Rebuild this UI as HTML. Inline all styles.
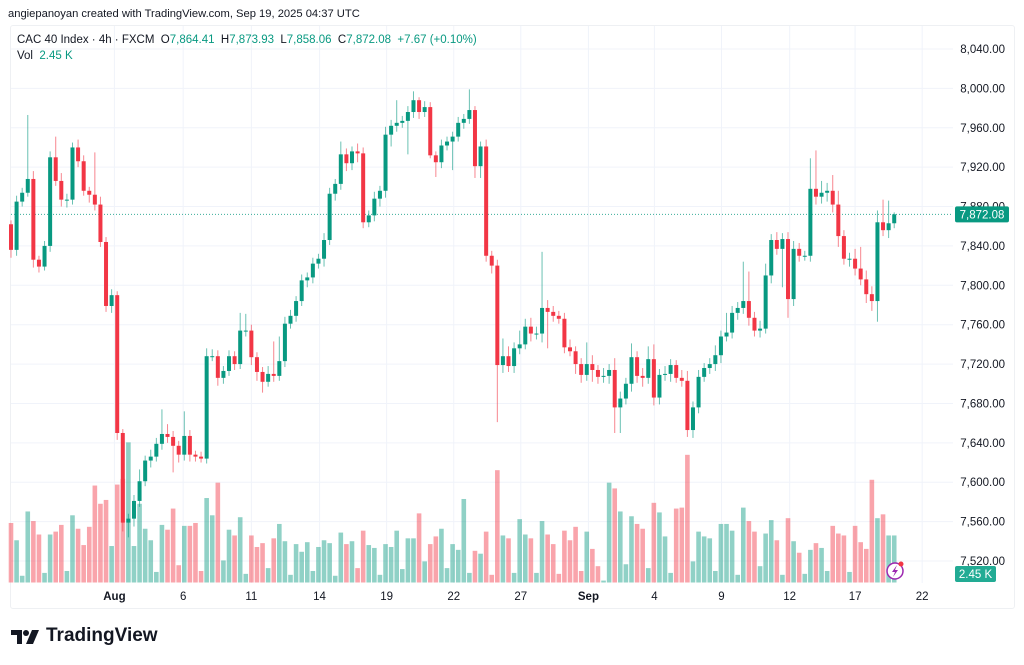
<!DOCTYPE html>
<html><head><meta charset="utf-8"><style>
body{margin:0;background:#fff;width:1024px;height:665px;overflow:hidden;font-family:"Liberation Sans",sans-serif;}
#wrap{position:relative;width:1024px;height:665px;}
.t{position:absolute;white-space:nowrap;font-size:11.5px;color:#131722;}
.g{color:#089981;}
</style></head><body>
<div id="wrap">
<div class="t" style="left:8px;top:8px;font-size:11.2px;">angiepanoyan created with TradingView.com, Sep 19, 2025 04:37 UTC</div>
<div style="position:absolute;left:10px;top:25px;width:1003px;height:582px;border:1px solid #eef0f3;border-radius:3px;"></div>
<svg id="chart" width="1024" height="665" style="position:absolute;left:0;top:0"></svg>
<div class="t" style="left:17px;top:34px;">CAC 40 Index · 4h · FXCM &nbsp;O<span class="g">7,864.41</span> &nbsp;H<span class="g">7,873.93</span> &nbsp;L<span class="g">7,858.06</span> &nbsp;C<span class="g">7,872.08</span> &nbsp;<span class="g">+7.67 (+0.10%)</span></div>
<div class="t" style="left:17px;top:50px;">Vol&nbsp; <span class="g">2.45 K</span></div>
<div style="position:absolute;left:11px;top:628px;">
<svg width="30" height="18" viewBox="0 0 30 18"><path d="M0 2h11v14H6V7H0z" fill="#131722"/><circle cx="15" cy="5" r="3" fill="#131722"/><path d="M21 2h7l-6 14h-7z" fill="#131722"/></svg>
<span style="position:absolute;left:35px;top:-3px;font-size:19px;font-weight:bold;color:#131722;">TradingView</span></div>
</div>
<script>
const openFirst = 7862;
const closes = [7836,7885,7894,7908,7826,7819,7840,7930,7906,7887,
7887,7940,7926,7896,7892,7882,7844,7779,7790,7650,
7559,7563,7581,7601,7622,7626,7639,7649,7646,7637,
7628,7647,7628,7626,7624,7728,7728,7706,7713,7728,
7720,7754,7754,7727,7712,7702,7710,7708,7723,7761,
7769,7784,7805,7808,7822,7827,7846,7893,7903,7933,
7924,7936,7934,7864,7871,7888,7896,7953,7962,7965,
7967,7976,7988,7976,7981,7932,7925,7942,7946,7951,
7965,7969,7978,7921,7941,7830,7820,7719,7728,7718,
7736,7740,7758,7751,7751,7777,7773,7769,7766,7737,
7733,7720,7709,7720,7714,7707,7708,7714,7676,7685,
7700,7727,7708,7706,7725,7686,7709,7710,7719,7706,
7703,7653,7676,7707,7716,7720,7729,7748,7752,7772,
7777,7784,7767,7754,7756,7810,7846,7837,7847,7786,
7837,7830,7830,7898,7890,7894,7896,7882,7850,7827,
7827,7817,7806,7791,7784,7864,7856,7863,7872.08];
const wickUp = [4,6,5,65,8,4,5,6,21,8, 6,5,8,6,4,43,8,5,6,4, 4,5,6,12,5,7,6,25,10,6, 5,25,6,4,5,8,7,6,5,6,
5,18,17,6,5,5,8,33,25,7, 6,5,6,5,6,5,7,6,5,13, 6,5,8,6,5,7,5,8,6,23, 5,6,9,3,6,5,4,6,5,5,
6,5,21,4,5,7,5,6,18,10, 6,14,8,9,7,57,8,6,5,6, 8,5,6,22,9,5,8,6,12,7, 6,14,6,8,13,15,6,8,6,5,
8,10,6,7,5,6,10,6,20,7, 6,40,30,6,8,12,6,8,6,7, 8,6,5,31,39,12,8,16,14,6, 6,10,22,9,8,12,23,23,2];
const wickDn = [8,6,5,4,8,6,4,6,5,7, 8,5,6,5,8,6,5,6,7,7, 9,15,8,6,5,7,5,6,6,27, 8,6,7,5,4,5,5,8,6,5,
6,5,6,8,9,11,5,6,5,6, 5,6,5,7,6,5,8,5,7,6, 8,7,9,6,5,6,8,7,12,6, 5,34,6,7,5,3,15,6,5,29,
5,6,5,12,12,6,8,58,8,6, 7,6,5,8,6,9,37,6,5,6, 5,10,8,6,12,7,6,8,26,26, 6,8,7,9,6,8,7,6,8,5,
6,7,8,6,5,6,7,8,5,6, 7,6,8,6,7,5,8,6,39,19, 7,6,5,6,8,7,9,8,11,6, 8,7,6,9,10,21,6,8,5];
const volumes = [3.1,2.2,0.35,3.7,3.2,2.5,0.5,2.5,2.65,3.0, 0.6,3.5,2.8,1.95,2.9,5.05,4.1,4.3,1.9,5.1,
5.4,7.3,1.9,4.1,2.8,2.2,0.55,3.0,2.75,3.85, 0.9,2.95,2.95,3.1,0.6,4.4,3.5,5.2,1.15,2.75,
2.45,3.4,0.45,2.45,1.85,2.05,0.75,2.3,3.05,2.15, 0.4,2.0,1.6,2.1,0.6,1.85,2.2,2.05,0.35,2.6,
2.0,2.15,0.75,2.7,1.95,1.8,0.4,2.0,1.85,2.7, 0.7,2.3,2.3,3.6,1.1,2.0,2.4,2.8,0.75,2.0,
1.7,4.35,0.5,1.65,1.5,2.65,0.4,5.85,2.45, 2.3,0.5,3.3,2.5,2.3,0.5,3.2,2.5,2.0,0.45,
2.7,2.2,2.9,0.6,2.65,1.75,0.85,0.1,5.2,4.9, 3.7,0.95,3.45,3.05,2.8,0.75,4.15,3.65,2.4,0.5,
3.85,3.9,6.65,1.1,2.65,2.4,2.3,0.6,3.05,3.05, 2.7,0.4,3.9,3.2,2.65,0.85,2.55,3.25,2.2,0.4,
3.35,2.15,1.55,0.45,1.7,2.05,1.8,0.6,2.95,2.55, 2.45,0.55,2.95,2.1,1.75,5.35,3.35,3.55,2.45,2.45];
const priceTicks = [8040,8000,7960,7920,7880,7840,7800,7760,7720,7680,7640,7600,7560,7520];
const dateLabels = ["Aug","6","11","14","19","22","27","Sep","4","9","12","17","22"];
const dateIndex = [18.5,30.8,43,55.2,67.2,79.2,91.2,103.3,115.1,127.1,139.3,151,163];
const lastPrice = 7872.08, lastVol = "2.45 K";

const svg = document.getElementById('chart');
const NS = 'http://www.w3.org/2000/svg';
const UP = '#089981', DN = '#F23645';
const yP = p => 49 + (8040 - p) * 0.9846;
const xI = i => 11 + i * 5.59;
const yV = v => 582.5 - v * 19.2;
function mk(tag, attrs){ const e = document.createElementNS(NS, tag); for (const k in attrs) e.setAttribute(k, attrs[k]); svg.appendChild(e); return e; }

priceTicks.forEach(p => {
  const l = mk('line', {x1:11, x2:953, y1:yP(p), y2:yP(p), stroke:'#f0f3fa', 'stroke-width':1});
  
  
  const t = mk('text', {x:1005, y:yP(p)+4, 'text-anchor':'end', 'font-size':11.5, fill:'#131722', 'font-family':'Liberation Sans, sans-serif'});
  t.textContent = p.toLocaleString('en-US', {minimumFractionDigits:2});
  
  
});
dateLabels.forEach((d, k) => {
  const x = xI(dateIndex[k]);
  const l = mk('line', {x1:x, x2:x, y1:26, y2:583, stroke:'#f0f3fa', 'stroke-width':1});
  
  
  const bold = (d === 'Aug' || d === 'Sep');
  const t = mk('text', {x:x, y:600, 'text-anchor':'middle', 'font-size':11.5, fill:'#131722', 'font-weight': bold ? 'bold' : 'normal', 'font-family':'Liberation Sans, sans-serif'});
  t.textContent = d;
  
  
});

volumes.forEach((v, i) => {
  const o = i === 0 ? openFirst : closes[i-1];
  const up = closes[i] >= o;
  const r = mk('rect', {x:xI(i)-2.3, y:yV(v), width:4.6, height:582.5 - yV(v), fill: up ? 'rgba(8,153,129,0.45)' : 'rgba(242,54,69,0.45)'});
  
  
});

const dl = mk('line', {x1:11, x2:953, y1:yP(lastPrice), y2:yP(lastPrice), stroke:UP, 'stroke-width':1, 'stroke-dasharray':'1,2', opacity:0.8});



closes.forEach((c, i) => {
  const o = i === 0 ? openFirst : closes[i-1];
  const up = c >= o;
  const col = up ? UP : DN;
  const hi = Math.max(o, c) + wickUp[i], lo = Math.min(o, c) - wickDn[i];
  const x = xI(i);
  const w = mk('line', {x1:x, x2:x, y1:yP(hi), y2:yP(lo), stroke:col, 'stroke-width':1, opacity:0.6});
  
  
  const top = yP(Math.max(o, c)), bh = Math.max(1, yP(Math.min(o, c)) - top);
  const b = mk('rect', {x:x-2, y:top, width:4, height:bh, fill:col});
  
  
});

const py = yP(lastPrice);
const pb = mk('rect', {x:955, y:py-8, width:54, height:16, rx:2, fill:UP});


const pt = mk('text', {x:982, y:py+4, 'text-anchor':'middle', 'font-size':11.5, fill:'#fff', 'font-family':'Liberation Sans, sans-serif'});
pt.textContent = lastPrice.toLocaleString('en-US', {minimumFractionDigits:2});


const vb = mk('rect', {x:955, y:566, width:41, height:16, rx:2, fill:'#22ab94'});


const vt = mk('text', {x:975.5, y:578, 'text-anchor':'middle', 'font-size':11.5, fill:'#fff', 'font-family':'Liberation Sans, sans-serif'});
vt.textContent = lastVol;



const ic = mk('circle', {cx:895, cy:571, r:8, fill:'#fff', stroke:'#9c27b0', 'stroke-width':1.5});


const bolt = mk('path', {d:'M897 565 L892 572 L895 572 L893 577 L898 570 L895 570 Z', fill:'#9c27b0'});


const dot = mk('circle', {cx:901, cy:564, r:2.5, fill:'#f23645'});


</script>
</body></html>
